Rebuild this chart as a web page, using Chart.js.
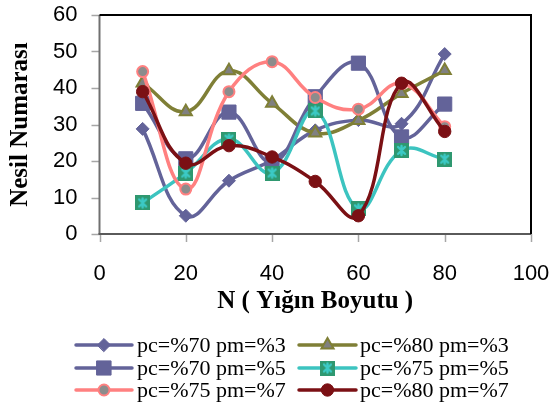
<!DOCTYPE html>
<html>
<head>
<meta charset="utf-8">
<script src="https://cdn.jsdelivr.net/npm/chart.js@4/dist/chart.umd.min.js"></script>
<style>
  html, body { margin: 0; padding: 0; background: #fff; }
  #wrap { width: 553px; height: 407px; position: relative; }
</style>
</head>
<body>
<div id="wrap"><canvas id="c"></canvas></div>
<script>
// Population sizes (N) on the x axis
const popSizes = [10, 20, 30, 40, 50, 60, 70, 80];

// Series labels
const seriesNames = ['pc=%70 pm=%3', 'pc=%80 pm=%3', 'pc=%70 pm=%5',
                     'pc=%75 pm=%5', 'pc=%75 pm=%7', 'pc=%80 pm=%7'];

// Generation number for each parameter setting
const pc70pm3 = [28.8, 5.0, 14.6, 20.3, 28.4, 31.2, 30.2, 49.3];
const pc80pm3 = [41.4, 33.5, 44.7, 35.8, 27.7, 31.1, 38.5, 44.8];
const pc70pm5 = [35.8, 20.6, 33.4, 19.6, 37.6, 46.8, 26.6, 35.6];
const pc75pm5 = [8.5, 16.7, 26.0, 16.7, 33.7, 6.9, 22.9, 20.5];
const pc75pm7 = [44.5, 12.3, 39.0, 47.2, 37.4, 34.2, 41.2, 29.4];
const pc80pm7 = [39.0, 19.4, 24.2, 21.1, 14.4, 5.0, 41.3, 28.1];

// Axis ranges and tick steps
const xTicks = [0, 20, 40, 60, 80, 100];
const yTicks = [0, 10, 20, 30, 40, 50, 60];

const yTitle = 'Nesil Numarası';
const xTitle = 'N ( Yığın Boyutu )';

// Green square marker with a turquoise asterisk
function makeStarBox() {
  const s = 15;
  const cv = document.createElement('canvas');
  cv.width = s; cv.height = s;
  const g = cv.getContext('2d');
  g.fillStyle = '#2f9870';
  g.fillRect(0, 0, s, s);
  g.strokeStyle = '#3ccac6';
  g.lineWidth = 2.4;
  g.lineCap = 'round';
  g.beginPath();
  g.moveTo(4, 4); g.lineTo(11, 11);
  g.moveTo(11, 4); g.lineTo(4, 11);
  g.moveTo(7.5, 3); g.lineTo(7.5, 12);
  g.stroke();
  return cv;
}

const purple = '#636399';
const olive = '#7f7f36';
const teal = '#3cc4c0';
const pink = '#ff8080';
const maroon = '#7b1014';

const styles = [
  { color: purple, pointStyle: 'rectRot', radius: 6.5, fill: purple, border: purple, bw: 1 },
  { color: olive, pointStyle: 'triangle', radius: 7, fill: '#808080', border: olive, bw: 2 },
  { color: purple, pointStyle: 'rect', radius: 10, fill: purple, border: purple, bw: 1 },
  { color: teal, pointStyle: makeStarBox(), radius: 7.5, fill: '#2f9870', border: '#2f9870', bw: 0 },
  { color: pink, pointStyle: 'circle', radius: 5.5, fill: '#8c8c8c', border: pink, bw: 2 },
  { color: maroon, pointStyle: 'circle', radius: 6.2, fill: maroon, border: maroon, bw: 1 }
];

const allSeries = [pc70pm3, pc80pm3, pc70pm5, pc75pm5, pc75pm7, pc80pm7];

const datasets = allSeries.map((vals, i) => ({
  label: seriesNames[i],
  data: vals.map((v, k) => ({ x: popSizes[k], y: v })),
  borderColor: styles[i].color,
  borderWidth: 3.5,
  backgroundColor: styles[i].fill,
  pointStyle: styles[i].pointStyle,
  pointRadius: styles[i].radius,
  pointHoverRadius: styles[i].radius,
  pointBackgroundColor: styles[i].fill,
  pointBorderColor: styles[i].border,
  pointBorderWidth: styles[i].bw,
  tension: 0.42,
  fill: false,
  order: allSeries.length - i
}));

// Axis lines, outside tick marks and the black top/right frame
const framePlugin = {
  id: 'frame',
  beforeDatasetsDraw(chart) {
    const { ctx, chartArea: a, scales } = chart;
    ctx.save();
    ctx.strokeStyle = '#a6a6a6';
    ctx.lineWidth = 1.5;
    ctx.beginPath();
    yTicks.forEach(v => {
      const y = Math.round(scales.y.getPixelForValue(v)) + 0.5;
      ctx.moveTo(a.left - 8, y); ctx.lineTo(a.left, y);
    });
    xTicks.forEach(v => {
      const x = Math.round(scales.x.getPixelForValue(v)) + 0.5;
      ctx.moveTo(x, a.bottom); ctx.lineTo(x, a.bottom + 8);
    });
    ctx.stroke();
    ctx.lineWidth = 2;
    ctx.strokeStyle = '#707070';
    ctx.beginPath();
    ctx.moveTo(a.left, a.top); ctx.lineTo(a.left, a.bottom);
    ctx.stroke();
    ctx.strokeStyle = '#5a5a5a';
    ctx.beginPath();
    ctx.moveTo(a.left - 1, a.bottom); ctx.lineTo(a.right, a.bottom);
    ctx.stroke();
    ctx.restore();
  },
  afterDatasetsDraw(chart) {
    const { ctx, chartArea: a } = chart;
    ctx.save();
    ctx.strokeStyle = '#000';
    ctx.lineWidth = 2;
    ctx.beginPath();
    ctx.moveTo(a.left, a.top);
    ctx.lineTo(a.right, a.top);
    ctx.lineTo(a.right, a.bottom);
    ctx.stroke();
    ctx.restore();
  }
};

// Two-column legend with line + marker samples
const legendPlugin = {
  id: 'lineLegend',
  afterDraw(chart) {
    const ctx = chart.ctx;
    const cols = [{ x0: 76, x1: 132, tx: 137 }, { x0: 299, x1: 356, tx: 360 }];
    const rows = [345, 368, 390];
    ctx.save();
    chart.data.datasets.forEach((ds, i) => {
      const c = cols[i % 2];
      const y = rows[Math.floor(i / 2)];
      ctx.strokeStyle = ds.borderColor;
      ctx.lineWidth = 3.5;
      ctx.lineCap = 'round';
      ctx.beginPath();
      ctx.moveTo(c.x0, y);
      ctx.lineTo(c.x1, y);
      ctx.stroke();
      ctx.fillStyle = ds.pointBackgroundColor;
      ctx.strokeStyle = ds.pointBorderColor;
      ctx.lineWidth = ds.pointBorderWidth;
      Chart.helpers.drawPoint(ctx, {
        pointStyle: ds.pointStyle,
        radius: ds.pointRadius,
        rotation: 0,
        borderWidth: ds.pointBorderWidth
      }, (c.x0 + c.x1) / 2, y);
      ctx.fillStyle = '#000';
      ctx.font = '22px "Liberation Serif", "Times New Roman", serif';
      ctx.textAlign = 'left';
      ctx.textBaseline = 'middle';
      ctx.fillText(ds.label, c.tx, y + 1);
    });
    ctx.restore();
  }
};

new Chart(document.getElementById('c'), {
  type: 'line',
  data: { datasets },
  plugins: [framePlugin, legendPlugin],
  options: {
    responsive: true,
    maintainAspectRatio: false,
    animation: false,
    events: [],
    layout: { padding: { top: 15, right: 22, left: 0, bottom: 90 } },
    plugins: {
      legend: { display: false },
      tooltip: { enabled: false }
    },
    scales: {
      x: {
        type: 'linear',
        min: xTicks[0],
        max: xTicks[xTicks.length - 1],
        afterBuildTicks(scale) { scale.ticks = xTicks.map(v => ({ value: v })); },
        afterFit(scale) { scale.height = 83; scale.paddingLeft = 0; scale.paddingRight = 0; },
        ticks: {
          color: '#000',
          padding: 19,
          font: { family: '"Liberation Sans", Arial, sans-serif', size: 22 }
        },
        grid: { display: false, tickLength: 8 },
        border: { display: false },
        title: {
          display: true,
          text: xTitle,
          color: '#000',
          padding: { top: 0, bottom: 0 },
          font: { family: '"Liberation Serif", "Times New Roman", serif', size: 25, weight: 'bold', lineHeight: 1.2 }
        }
      },
      y: {
        type: 'linear',
        min: yTicks[0],
        max: yTicks[yTicks.length - 1],
        afterBuildTicks(scale) { scale.ticks = yTicks.map(v => ({ value: v })); },
        afterFit(scale) { scale.width = 99.5; scale.paddingTop = 0; scale.paddingBottom = 0; },
        ticks: {
          color: '#000',
          padding: 14,
          font: { family: '"Liberation Sans", Arial, sans-serif', size: 22 }
        },
        grid: { display: false, tickLength: 8 },
        border: { display: false },
        title: {
          display: true,
          text: yTitle,
          color: '#000',
          padding: { top: 6, bottom: 0 },
          font: { family: '"Liberation Serif", "Times New Roman", serif', size: 25, weight: 'bold', lineHeight: 1.2 }
        }
      }
    }
  }
});
</script>
</body>
</html>
